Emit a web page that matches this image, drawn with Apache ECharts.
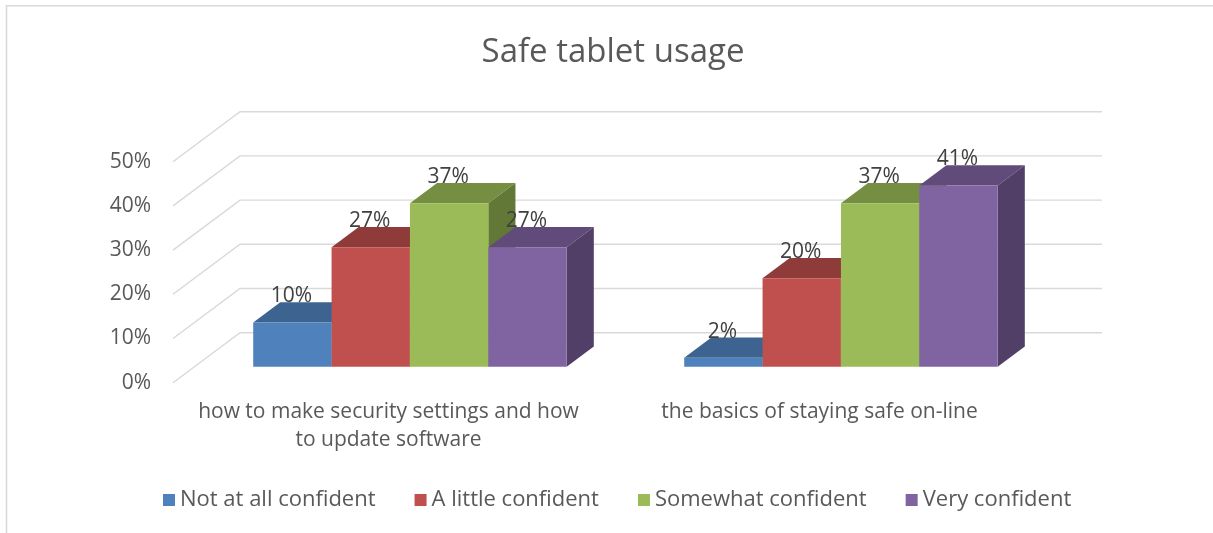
<!DOCTYPE html>
<html>
<head>
<meta charset="utf-8">
<script src="https://cdn.jsdelivr.net/npm/echarts@6/dist/echarts.min.js"></script>
<style>
  html, body { margin: 0; padding: 0; background: #ffffff; }
  #chart { width: 1213px; height: 533px; }
</style>
</head>
<body>
<div id="chart"></div>
<script>
// Categories and survey shares (fractions of respondents)
const categories = [
  'how to make security settings and how\nto update software',
  'the basics of staying safe on-line'
];
const seriesNames = ['Not at all confident', 'A little confident', 'Somewhat confident', 'Very confident'];
const notAtAllConfident = [0.10, 0.02];
const aLittleConfident = [0.27, 0.20];
const somewhatConfident = [0.37, 0.37];
const veryConfident = [0.27, 0.41];
const yTicks = [0, 0.1, 0.2, 0.3, 0.4, 0.5];

const seriesValues = [notAtAllConfident, aLittleConfident, somewhatConfident, veryConfident];

const FONT = '"Open Sans", "Liberation Sans", sans-serif';
const TEXT_GREY = '#595959';
const GRID_GREY = '#d9d9d9';

// Oblique 3D projection: full floor depth as a screen offset
const DEPTH_X = 67;
const DEPTH_Y = 50;
// Bars occupy this slice of the floor depth
const BAR_FRONT = 0.32;
const BAR_BACK = 0.725;

const shades = [
  { front: '#4F81BD', top: '#3D6491', side: '#34567D' },
  { front: '#C0504D', top: '#8F3B39', side: '#7C3331' },
  { front: '#9BBB59', top: '#758E42', side: '#627836' },
  { front: '#8064A2', top: '#604B7A', side: '#523F68' }
];

const pct = v => Math.round(v * 100) + '%';

// Back wall gridlines plus the receding lines on the side wall
function wallRenderer(params, api) {
  const y = api.coord([0, api.value(1)])[1];
  const cs = params.coordSys;
  const xl = cs.x;
  const xr = cs.x + cs.width;
  return {
    type: 'polyline',
    shape: { points: [[xl, y], [xl + DEPTH_X, y - DEPTH_Y], [xr + DEPTH_X, y - DEPTH_Y]] },
    style: { stroke: GRID_GREY, lineWidth: 1.4, fill: null }
  };
}

// Each bar: front face, top face, right side face and a value label
function barRenderer(idx) {
  return function (params, api) {
    const cat = api.value(0);
    const v = api.value(1);
    const base = api.coord([cat, 0]);
    const topPt = api.coord([cat, v]);
    const band = api.size([1, 0])[0];
    const bw = band / 5.5;
    const x0 = base[0] - 2 * bw + idx * bw + DEPTH_X * BAR_FRONT;
    const x1 = x0 + bw;
    const yb = base[1] - DEPTH_Y * BAR_FRONT;
    const yt = topPt[1] - DEPTH_Y * BAR_FRONT;
    const dx = DEPTH_X * (BAR_BACK - BAR_FRONT);
    const dy = DEPTH_Y * (BAR_BACK - BAR_FRONT);
    const c = shades[idx];
    return {
      type: 'group',
      children: [
        { type: 'polygon', shape: { points: [[x0, yt], [x1, yt], [x1 + dx, yt - dy], [x0 + dx, yt - dy]] },
          style: { fill: c.top } },
        { type: 'polygon', shape: { points: [[x1, yb], [x1, yt], [x1 + dx, yt - dy], [x1 + dx, yb - dy]] },
          style: { fill: c.side } },
        { type: 'rect', shape: { x: x0, y: yt, width: bw, height: yb - yt },
          style: { fill: c.front } },
        { type: 'text', z2: 100, x: x0 + bw / 2 - 1, y: yt - dy - 6,
          style: { text: pct(v), fill: '#404040', font: '21px ' + FONT, align: 'center', verticalAlign: 'middle' } }
      ]
    };
  };
}

const chart = echarts.init(document.getElementById('chart'), null, { renderer: 'canvas' });

const series = [{
  type: 'custom',
  name: 'wall',
  z: 1,
  silent: true,
  renderItem: wallRenderer,
  data: yTicks.map(v => [0, v]),
  encode: { x: 0, y: 1 }
}];

seriesNames.forEach((name, i) => {
  series.push({
    type: 'custom',
    name: name,
    z: 2,
    renderItem: barRenderer(i),
    itemStyle: { color: shades[i].front },
    data: seriesValues[i].map((v, c) => [c, v]),
    encode: { x: 0, y: 1 }
  });
});

chart.setOption({
  animation: false,
  backgroundColor: '#ffffff',
  title: {
    text: 'Safe tablet usage',
    left: 608,
    top: 48,
    textAlign: 'center',
    textVerticalAlign: 'middle',
    textStyle: { fontFamily: FONT, fontSize: 33, fontWeight: 'normal', color: TEXT_GREY }
  },
  legend: {
    data: seriesNames,
    left: 158,
    top: 484,
    icon: 'rect',
    itemWidth: 12,
    itemHeight: 12,
    itemGap: 39,
    textStyle: { fontFamily: FONT, fontSize: 22, color: TEXT_GREY }
  },
  grid: {
    left: 173,
    right: 178,
    top: 161.7,
    bottom: 150.3,
    outerBoundsMode: 'none'
  },
  xAxis: {
    type: 'category',
    data: categories,
    axisLine: { show: false },
    axisTick: { show: false },
    splitLine: { show: false },
    axisLabel: {
      interval: 0,
      margin: 15,
      fontFamily: FONT,
      fontSize: 21,
      lineHeight: 28,
      color: TEXT_GREY
    }
  },
  yAxis: {
    type: 'value',
    min: 0,
    max: 0.5,
    interval: 0.1,
    axisLine: { show: false },
    axisTick: { show: false },
    splitLine: { show: false },
    axisLabel: {
      margin: 22,
      fontFamily: FONT,
      fontSize: 21,
      color: TEXT_GREY,
      formatter: pct
    }
  },
  graphic: [{
    type: 'polyline',
    silent: true,
    shape: { points: [[6.5, 533], [6.5, 5.8], [1213, 5.8]] },
    style: { stroke: GRID_GREY, lineWidth: 1.6, fill: null }
  }],
  series: series
});
</script>
</body>
</html>
